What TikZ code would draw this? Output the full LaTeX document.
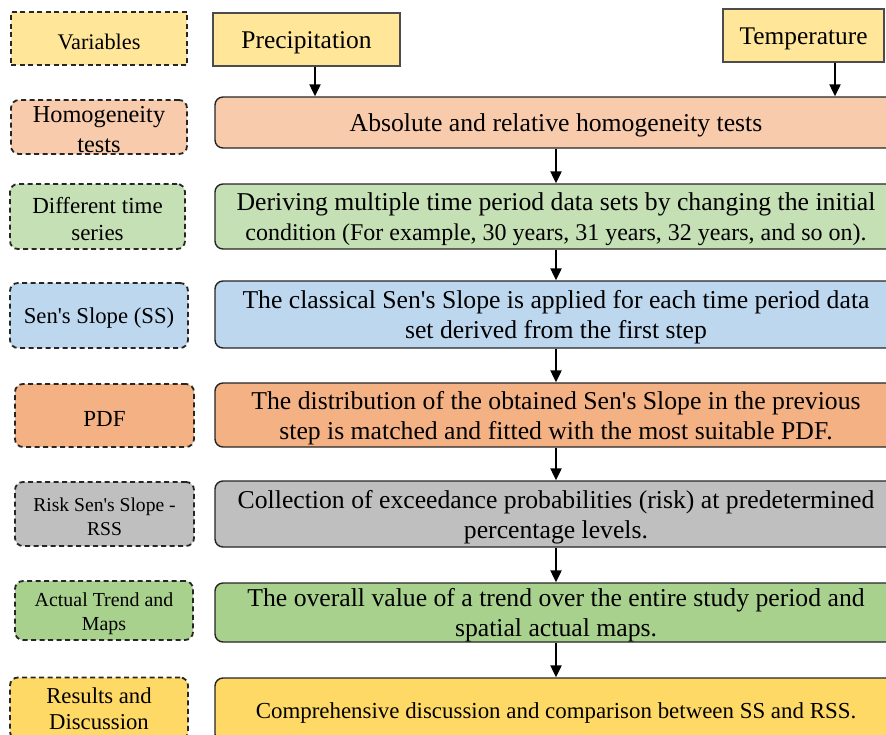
\documentclass[tikz,border=0pt]{standalone}
\usepackage{fontspec}
\setmainfont{Liberation Serif}
\usetikzlibrary{arrows.meta}
\newcommand{\aps}{\textquotesingle}
\definecolor{cYel}{HTML}{FFE699}
\definecolor{cYel2}{HTML}{FFD966}
\definecolor{cPeach}{HTML}{F8CBAD}
\definecolor{cLGreen}{HTML}{C5E0B4}
\definecolor{cBlue}{HTML}{BDD7EE}
\definecolor{cOrange}{HTML}{F4B183}
\definecolor{cGray}{HTML}{BFBFBF}
\definecolor{cGreen}{HTML}{A9D18E}
\tikzset{
  lbl/.style={draw=black!85, line width=1.8pt, dash pattern=on 5pt off 3.5pt, rounded corners=8pt, align=center, inner sep=0pt, font=\fontsize{23}{27}\selectfont},
  mainbox/.style={draw=black!85, line width=1.4pt, rounded corners=8pt, align=center, inner sep=0pt, font=\fontsize{25.7}{30}\selectfont},
  varbox/.style={draw=black!70, line width=1.2pt, fill=cYel, align=center, inner sep=0pt, font=\fontsize{25.5}{30}\selectfont},
  txt/.style={draw=none, fill=none, minimum width=0pt, minimum height=0pt},
  flow/.style={-{Triangle[length=12pt,width=11pt]}, line width=2.2pt}
}
% #1 style, #2 name, #3 centre, #4 width, #5 height, #6 text
\newcommand{\bx}[6]{%
  \node[#1, minimum width=#4, minimum height=#5] (#2) at #3 {};
  \node[#1, txt] (#2t) at ([yshift=-3pt]#2.center) {#6};}
\begin{document}
\begin{tikzpicture}[x=1pt,y=1pt]
\useasboundingbox (0,0) rectangle (886,-734);
\clip (0,0) rectangle (886,-734);
\fill[white] (0,0) rectangle (886,-734);
% left labels
\bx{lbl, sharp corners, fill=cYel, font=\fontsize{22.3}{27}\selectfont}{l1}{(99,-38.5)}{176pt}{53pt}{Variables}
\bx{lbl, fill=cPeach, font=\fontsize{24.3}{30}\selectfont}{l2}{(99,-127)}{176pt}{54pt}{Homogeneity\\tests}
\bx{lbl, fill=cLGreen, font=\fontsize{23}{27}\selectfont}{l3}{(97.5,-216.5)}{175pt}{65pt}{Different time\\series}
\bx{lbl, fill=cBlue, font=\fontsize{22.7}{27}\selectfont}{l4}{(99,-315.5)}{178pt}{65pt}{Sen\aps s Slope (SS)}
\bx{lbl, fill=cOrange}{l5}{(104.5,-415.5)}{179pt}{63pt}{PDF}
\bx{lbl, fill=cGray, font=\fontsize{19.6}{24}\selectfont}{l6}{(104.5,-514)}{179pt}{64pt}{Risk Sen\aps s Slope -\\RSS}
\bx{lbl, fill=cGreen, font=\fontsize{19.9}{24}\selectfont}{l7}{(104,-610.5)}{178pt}{59pt}{Actual Trend and\\Maps}
\node[lbl, fill=cYel2, minimum width=178pt, minimum height=62pt] (l8) at (99,-708.5) {};
\node[lbl, txt, font=\fontsize{22.7}{26}\selectfont] (l8t) at ([yshift=0pt]l8.center) {Results and\\Discussion};
% variables
\bx{varbox}{pr}{(306.5,-39.5)}{187pt}{53pt}{Precipitation}
\bx{varbox, font=\fontsize{25.4}{30}\selectfont}{te}{(803.5,-35.5)}{161pt}{53pt}{Temperature}
% main boxes
\bx{mainbox, fill=cPeach}{m1}{(556,-122.5)}{682pt}{51pt}{Absolute and relative homogeneity tests}
\bx{mainbox, fill=cLGreen}{m2}{(556,-216.5)}{682pt}{65pt}{Deriving multiple time period data sets by changing the initial\\{\fontsize{24}{30}\selectfont condition (For example, 30 years, 31 years, 32 years, and so on).}}
\bx{mainbox, fill=cBlue}{m3}{(556,-314.5)}{682pt}{67pt}{The classical Sen\aps s Slope is applied for each time period data\\set derived from the first step}
\bx{mainbox, fill=cOrange}{m4}{(556,-415)}{682pt}{64pt}{The distribution of the obtained Sen\aps s Slope in the previous\\step is matched and fitted with the most suitable PDF.}
\bx{mainbox, fill=cGray}{m5}{(556,-514)}{682pt}{66pt}{Collection of exceedance probabilities (risk) at predetermined\\percentage levels.}
\bx{mainbox, fill=cGreen}{m6}{(556,-612.5)}{682pt}{59pt}{The overall value of a trend over the entire study period and\\spatial actual maps.}
\bx{mainbox, fill=cYel2, font=\fontsize{22.9}{27}\selectfont}{m7}{(556,-710)}{682pt}{64pt}{Comprehensive discussion and comparison between SS and RSS.}
% arrows
\draw[flow] (pr.south -| 315,0) -- (m1.north -| 315,0);
\draw[flow] (te.south -| 835,0) -- (m1.north -| 835,0);
\draw[flow] (m1) -- (m2);
\draw[flow] (m2) -- (m3);
\draw[flow] (m3) -- (m4);
\draw[flow] (m4) -- (m5);
\draw[flow] (m5) -- (m6);
\draw[flow] (m6) -- (m7);
\end{tikzpicture}
\end{document}
